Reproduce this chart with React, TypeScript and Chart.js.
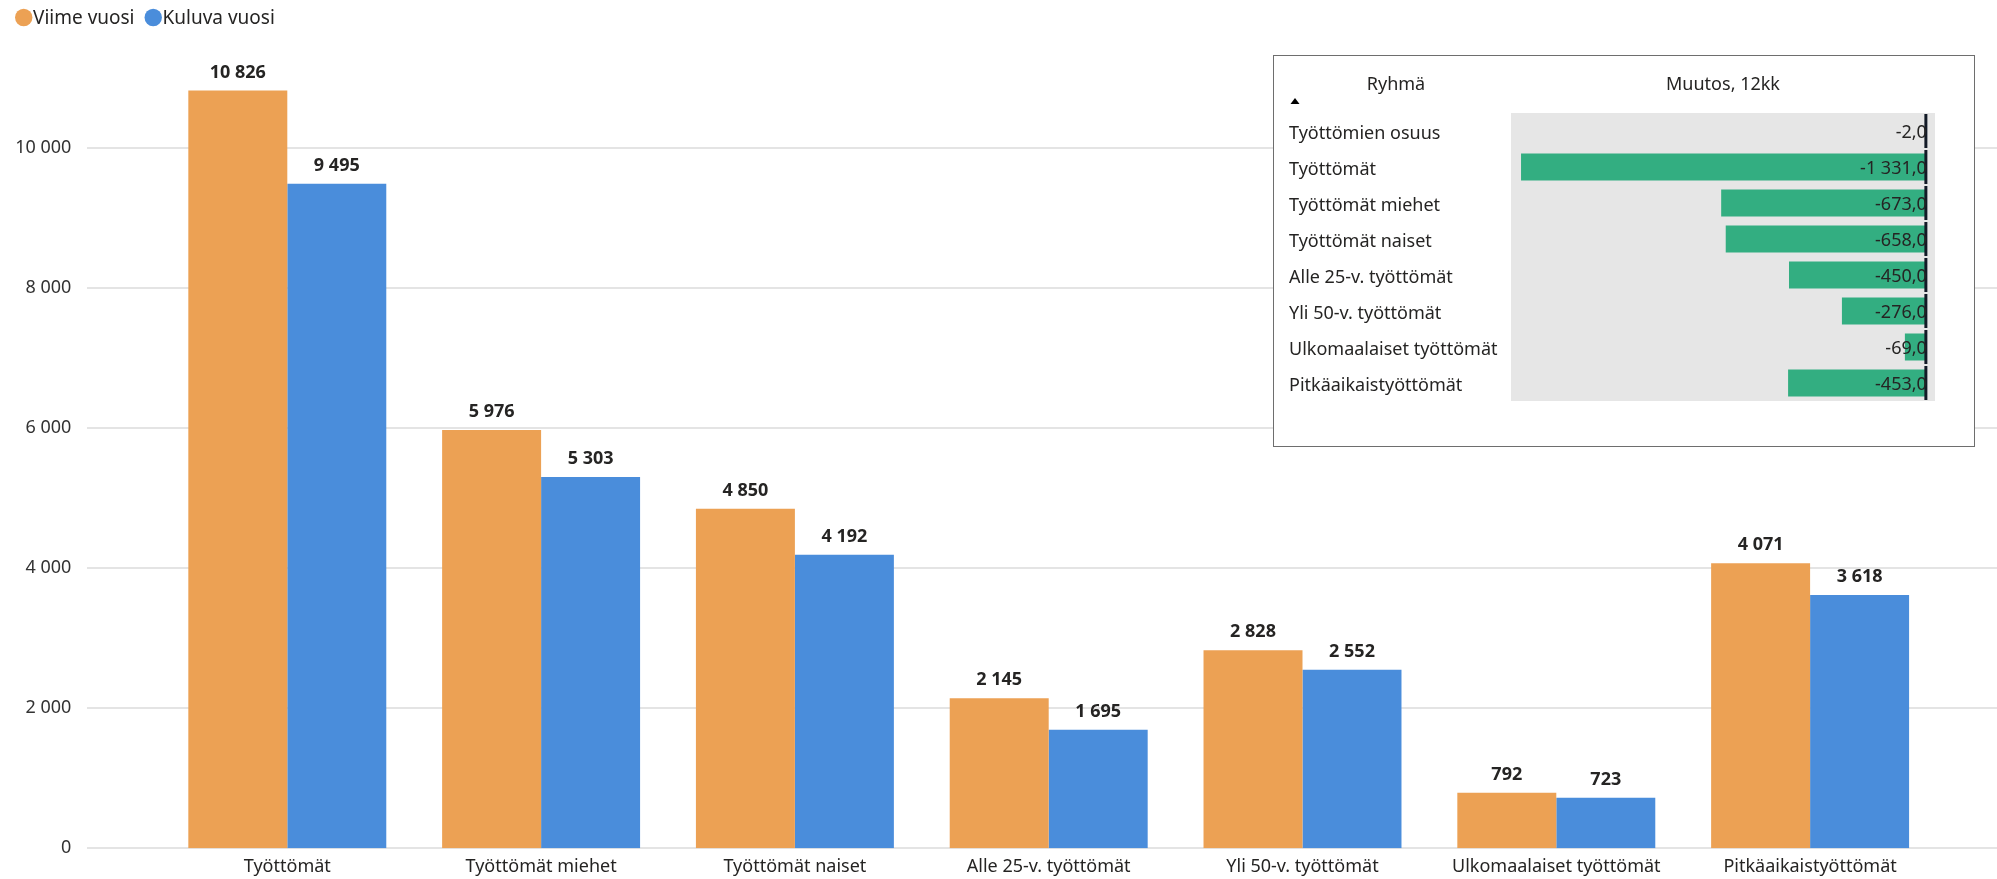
import React, { useEffect, useRef } from "react";
import { Chart, registerables } from "chart.js";

Chart.register(...registerables);

// ---------- data ----------
const categories = [
  "Työttömät",
  "Työttömät miehet",
  "Työttömät naiset",
  "Alle 25-v. työttömät",
  "Yli 50-v. työttömät",
  "Ulkomaalaiset työttömät",
  "Pitkäaikaistyöttömät",
];
const seriesNames = ["Viime vuosi", "Kuluva vuosi"];
const lastYear = [10826, 5976, 4850, 2145, 2828, 792, 4071];
const currentYear = [9495, 5303, 4192, 1695, 2552, 723, 3618];
const yTickValues = [0, 2000, 4000, 6000, 8000, 10000];

const tableHeaders = ["Ryhmä", "Muutos, 12kk"];
const changeGroups = [
  "Työttömien osuus",
  "Työttömät",
  "Työttömät miehet",
  "Työttömät naiset",
  "Alle 25-v. työttömät",
  "Yli 50-v. työttömät",
  "Ulkomaalaiset työttömät",
  "Pitkäaikaistyöttömät",
];
const changeValues = [-2.0, -1331.0, -673.0, -658.0, -450.0, -276.0, -69.0, -453.0];

// ---------- styles ----------
const FONT = '"Noto Sans", "Open Sans", sans-serif';
const ORANGE = "#ECA154";
const BLUE = "#4A8DDB";
const GREEN = "#33AE81";
const TEXT = "#252423";
const GRID = "#E4E4E4";

function fmt(n: number, decimals = 0): string {
  const neg = n < 0;
  const s = Math.abs(n).toFixed(decimals);
  const [intPart, decPart] = s.split(".");
  const grouped = intPart.replace(/\B(?=(\d{3})+(?!\d))/g, " ");
  return (neg ? "-" : "") + grouped + (decPart ? "," + decPart : "");
}

function zeroPad(s: any) {
  s.paddingTop = 0;
  s.paddingBottom = 0;
  s.paddingLeft = 0;
  s.paddingRight = 0;
}

const gridPlugin = {
  id: "extGrid",
  beforeDatasetsDraw(chart: any) {
    const { ctx } = chart;
    const y = chart.scales.y;
    ctx.save();
    ctx.strokeStyle = GRID;
    ctx.lineWidth = 2;
    y.ticks.forEach((t: any) => {
      const py = Math.round(y.getPixelForValue(t.value));
      ctx.beginPath();
      ctx.moveTo(87, py);
      ctx.lineTo(chart.width, py);
      ctx.stroke();
    });
    ctx.restore();
  },
};

const valueLabelPlugin = {
  id: "valueLabels",
  afterDatasetsDraw(chart: any) {
    const { ctx } = chart;
    ctx.save();
    ctx.font = `bold 18px ${FONT}`;
    ctx.fillStyle = TEXT;
    ctx.textAlign = "center";
    ctx.textBaseline = "middle";
    chart.data.datasets.forEach((ds: any, di: number) => {
      const meta = chart.getDatasetMeta(di);
      meta.data.forEach((el: any, i: number) => {
        ctx.fillText(fmt(ds.data[i]), el.x, el.y - 18);
      });
    });
    ctx.restore();
  },
};

const legendPlugin = {
  id: "customLegend",
  afterDraw(chart: any) {
    const { ctx } = chart;
    ctx.save();
    ctx.font = `19px ${FONT}`;
    ctx.textBaseline = "middle";
    ctx.textAlign = "left";
    let x = 15;
    const cy = 17.5;
    const r = 8.7;
    chart.data.datasets.forEach((ds: any) => {
      ctx.fillStyle = ds.backgroundColor;
      ctx.beginPath();
      ctx.arc(x + r, cy, r, 0, Math.PI * 2);
      ctx.fill();
      x += 18;
      ctx.fillStyle = TEXT;
      ctx.fillText(ds.label, x, cy + 1);
      x += ctx.measureText(ds.label).width + 10;
    });
    ctx.restore();
  },
};

const insetPlugin = {
  id: "insetDecor",
  beforeDatasetsDraw(chart: any) {
    const { ctx, chartArea } = chart;
    ctx.save();
    ctx.fillStyle = "#E6E6E6";
    ctx.fillRect(chartArea.left, chartArea.top, chartArea.right - chartArea.left, chartArea.bottom - chartArea.top);
    ctx.restore();
  },
  afterDatasetsDraw(chart: any) {
    const { ctx, chartArea } = chart;
    const xs = chart.scales.x;
    const ys = chart.scales.y;
    const zx = xs.getPixelForValue(0);
    ctx.save();
    const n = chart.data.labels.length;
    const rowH = (chartArea.bottom - chartArea.top) / n;
    ctx.strokeStyle = "#121a26";
    ctx.lineWidth = 3;
    for (let i = 0; i < n; i++) {
      const cy = ys.getPixelForValue(i);
      ctx.beginPath();
      ctx.moveTo(zx, cy - rowH / 2 + 1);
      ctx.lineTo(zx, cy + rowH / 2 - 1);
      ctx.stroke();
    }
    ctx.font = `18px ${FONT}`;
    ctx.fillStyle = TEXT;
    ctx.textAlign = "right";
    ctx.textBaseline = "middle";
    const ds = chart.data.datasets[0];
    ds.data.forEach((v: number, i: number) => {
      ctx.fillText(fmt(v, 1), zx + 1, ys.getPixelForValue(i) + 2);
    });
    ctx.font = `18px ${FONT}`;
    ctx.textAlign = "center";
    ctx.fillText(tableHeaders[0], 122, 29);
    ctx.fillText(tableHeaders[1], 449, 29);
    ctx.fillStyle = "#000";
    ctx.beginPath();
    ctx.moveTo(16.5, 48);
    ctx.lineTo(25.5, 48);
    ctx.lineTo(21, 42);
    ctx.closePath();
    ctx.fill();
    ctx.restore();
  },
};

export default function App() {
  const mainRef = useRef<HTMLCanvasElement | null>(null);
  const insetRef = useRef<HTMLCanvasElement | null>(null);

  useEffect(() => {
    document.body.style.margin = "0";
    document.body.style.overflow = "hidden";
    const main = new Chart(mainRef.current as HTMLCanvasElement, {
      type: "bar",
      data: {
        labels: categories,
        datasets: [
          { label: seriesNames[0], data: lastYear, backgroundColor: ORANGE, categoryPercentage: 0.78, barPercentage: 1 },
          { label: seriesNames[1], data: currentYear, backgroundColor: BLUE, categoryPercentage: 0.78, barPercentage: 1 },
        ],
      },
      options: {
        animation: false,
        responsive: false,
        devicePixelRatio: 1,
        layout: { autoPadding: false, padding: { top: 8.3, right: 60, left: 0, bottom: 0 } },
        plugins: { legend: { display: false }, tooltip: { enabled: false } },
        scales: {
          x: {
            grid: { display: false, drawTicks: false },
            border: { display: false },
            ticks: { font: { family: FONT, size: 18 }, color: TEXT, padding: 8, maxRotation: 0, autoSkip: false },
            afterFit: (s: any) => {
              s.height = 30.7;
              zeroPad(s);
            },
          },
          y: {
            min: 0,
            max: 12000,
            grid: { display: false, drawTicks: false },
            border: { display: false },
            ticks: {
              font: { family: FONT, size: 18 },
              color: "#333333",
              padding: 89,
              callback: (v: any) => fmt(Number(v)),
            },
            afterBuildTicks: (s: any) => {
              s.ticks = yTickValues.map((v) => ({ value: v }));
            },
            afterFit: (s: any) => {
              s.width = 160.4;
              zeroPad(s);
            },
          },
        },
      } as any,
      plugins: [gridPlugin, valueLabelPlugin, legendPlugin],
    });

    const inset = new Chart(insetRef.current as HTMLCanvasElement, {
      type: "bar",
      data: {
        labels: changeGroups,
        datasets: [{ data: changeValues, backgroundColor: GREEN, categoryPercentage: 0.75, barPercentage: 1 }],
      },
      options: {
        indexAxis: "y",
        animation: false,
        responsive: false,
        devicePixelRatio: 1,
        layout: { autoPadding: false, padding: { left: 15, top: 57, right: 39, bottom: 45 } },
        plugins: { legend: { display: false }, tooltip: { enabled: false } },
        scales: {
          x: { display: false, min: -1364, max: 30 },
          y: {
            grid: { display: false, drawTicks: false },
            border: { display: false },
            ticks: {
              crossAlign: "far",
              font: { family: FONT, size: 18 },
              color: TEXT,
              padding: 0,
              autoSkip: false,
              labelOffset: 3,
            },
            afterFit: (s: any) => {
              s.width = 222;
              zeroPad(s);
            },
          },
        },
      } as any,
      plugins: [insetPlugin],
    });

    return () => {
      main.destroy();
      inset.destroy();
    };
  }, []);

  return (
    <div style={{ position: "relative", width: 1997, height: 879, background: "#fff" }}>
      <canvas ref={mainRef} width={1997} height={879} style={{ position: "absolute", left: 0, top: 0 }} />
      <div
        style={{
          position: "absolute",
          left: 1273,
          top: 55,
          width: 700,
          height: 390,
          border: "1px solid #6e6e6e",
          background: "#fff",
        }}
      >
        <canvas ref={insetRef} width={700} height={390} style={{ display: "block" }} />
      </div>
    </div>
  );
}
